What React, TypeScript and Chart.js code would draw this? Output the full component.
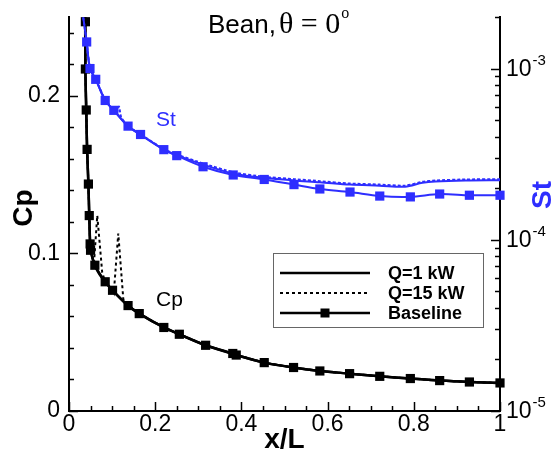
import React, { useEffect, useRef } from "react";
import { Chart, registerables } from "chart.js";

Chart.register(...registerables);

const SANS = '"Liberation Sans", Arial, Helvetica, sans-serif';
const SERIF = '"Liberation Serif", "Times New Roman", serif';
const BLUE = "#2e2eff";
const BLACK = "#000000";

// ---- Pressure coefficient, baseline (with markers)
const baseCpX = [0.038, 0.038, 0.040, 0.042, 0.045, 0.047, 0.049, 0.050, 0.060, 0.084, 0.101, 0.137, 0.163, 0.220, 0.256, 0.317, 0.380, 0.388, 0.453, 0.521, 0.582, 0.651, 0.721, 0.792, 0.860, 0.929, 1.0];
const baseCp = [0.247, 0.217, 0.191, 0.166, 0.144, 0.124, 0.106, 0.102, 0.0925, 0.082, 0.0766, 0.0669, 0.0618, 0.053, 0.0487, 0.0417, 0.0365, 0.0355, 0.0307, 0.0276, 0.0254, 0.0237, 0.022, 0.0206, 0.0193, 0.0184, 0.0178];

// ---- Pressure coefficient, Q = 1 kW
const q1CpX = [0.0375, 0.038, 0.040, 0.042, 0.045, 0.047, 0.049, 0.052, 0.060, 0.070, 0.084, 0.101, 0.137, 0.163, 0.220, 0.256, 0.317, 0.383, 0.453, 0.521, 0.582, 0.651, 0.721, 0.792, 0.860, 0.929, 1.0];
const q1Cp = [0.25, 0.217, 0.191, 0.166, 0.144, 0.124, 0.106, 0.100, 0.0925, 0.087, 0.082, 0.0766, 0.0669, 0.0618, 0.053, 0.0487, 0.0417, 0.036, 0.0307, 0.0276, 0.0254, 0.0237, 0.022, 0.0206, 0.0193, 0.0184, 0.0178];

// ---- Pressure coefficient, Q = 15 kW (two spikes near the nose)
const q15CpX = [0.0375, 0.038, 0.040, 0.042, 0.045, 0.047, 0.049, 0.052, 0.058, 0.0656, 0.077, 0.084, 0.101, 0.104, 0.1143, 0.126, 0.137, 0.163, 0.220, 0.256, 0.317, 0.383, 0.453, 0.521, 0.582, 0.651, 0.721, 0.792, 0.860, 0.929, 1.0];
const q15Cp = [0.25, 0.217, 0.191, 0.166, 0.144, 0.124, 0.106, 0.100, 0.094, 0.124, 0.088, 0.082, 0.0766, 0.075, 0.1126, 0.071, 0.0669, 0.0618, 0.053, 0.0487, 0.0417, 0.036, 0.0307, 0.0276, 0.0254, 0.0237, 0.022, 0.0206, 0.0193, 0.0184, 0.0178];

// ---- Stanton number, baseline (with markers)
const baseStX = [0.041, 0.0487, 0.062, 0.084, 0.104, 0.137, 0.166, 0.220, 0.250, 0.311, 0.381, 0.453, 0.522, 0.582, 0.652, 0.721, 0.792, 0.860, 0.929, 1.0];
const baseSt = [1.43e-3, 1.0e-3, 8.65e-4, 6.51e-4, 5.7e-4, 4.61e-4, 4.12e-4, 3.36e-4, 3.1e-4, 2.67e-4, 2.39e-4, 2.25e-4, 2.1e-4, 1.98e-4, 1.9e-4, 1.8e-4, 1.78e-4, 1.85e-4, 1.82e-4, 1.82e-4];

// ---- Stanton number, Q = 1 kW
const q1StX = [0.033, 0.041, 0.0487, 0.062, 0.084, 0.104, 0.137, 0.166, 0.220, 0.250, 0.311, 0.381, 0.453, 0.522, 0.582, 0.652, 0.721, 0.780, 0.820, 0.850, 0.920, 1.0];
const q1St = [1.99e-3, 1.43e-3, 1.0e-3, 8.65e-4, 6.5e-4, 5.7e-4, 4.6e-4, 4.1e-4, 3.36e-4, 3.12e-4, 2.75e-4, 2.44e-4, 2.3e-4, 2.22e-4, 2.17e-4, 2.1e-4, 2.07e-4, 2.04e-4, 2.15e-4, 2.19e-4, 2.22e-4, 2.23e-4];

// ---- Stanton number, Q = 15 kW
const q15StX = [0.033, 0.041, 0.0487, 0.062, 0.084, 0.104, 0.110, 0.116, 0.121, 0.137, 0.166, 0.220, 0.250, 0.311, 0.381, 0.453, 0.522, 0.582, 0.652, 0.721, 0.780, 0.820, 0.850, 0.920, 1.0];
const q15St = [1.99e-3, 1.43e-3, 1.0e-3, 8.7e-4, 6.55e-4, 5.72e-4, 5.45e-4, 6.0e-4, 5.2e-4, 4.62e-4, 4.13e-4, 3.38e-4, 3.15e-4, 2.79e-4, 2.48e-4, 2.33e-4, 2.26e-4, 2.2e-4, 2.13e-4, 2.1e-4, 2.07e-4, 2.18e-4, 2.22e-4, 2.25e-4, 2.26e-4];

// ---- Axes and tick labels
const xMajorTicks = [0, 0.2, 0.4, 0.6, 0.8, 1];
const xMinorStep = 0.05;
const cpMajorTicks = [0, 0.1, 0.2];
const cpMinorStep = 0.02;
const stDecades = [1e-5, 1e-4, 1e-3];
const stDecadeExps = ["-5", "-4", "-3"];
const legendLabels = ["Q=1 kW", "Q=15 kW", "Baseline"];

const pts = (xs: number[], ys: number[]) => xs.map((x, i) => ({ x, y: ys[i] }));

const overlay = {
  id: "overlay",
  afterDraw(chart: any) {
    const { ctx, chartArea: ca, scales } = chart;
    const xs = scales.x, ys = scales.y, y2 = scales.y2;
    ctx.save();
    ctx.strokeStyle = BLACK;
    ctx.lineWidth = 1.5;
    const MAJ = 9, MIN = 5;

    // inward ticks on the bottom axis
    for (let i = 0; i <= Math.round(1 / xMinorStep); i++) {
      const v = i * xMinorStep;
      const major = xMajorTicks.some((t) => Math.abs(t - v) < 1e-9);
      const px = Math.round(xs.getPixelForValue(v)) + 0.5;
      ctx.beginPath();
      ctx.moveTo(px, ca.bottom);
      ctx.lineTo(px, ca.bottom - (major ? MAJ : MIN));
      ctx.stroke();
    }
    // inward ticks on the Cp axis
    for (let i = 0; i * cpMinorStep <= 0.25 + 1e-9; i++) {
      const v = i * cpMinorStep;
      const major = cpMajorTicks.some((t) => Math.abs(t - v) < 1e-9);
      const py = Math.round(ys.getPixelForValue(v)) + 0.5;
      ctx.beginPath();
      ctx.moveTo(ca.left, py);
      ctx.lineTo(ca.left + (major ? MAJ : MIN), py);
      ctx.stroke();
    }
    // inward ticks on the St (log) axis
    const logTicks: { v: number; major: boolean }[] = [];
    stDecades.forEach((d) => {
      for (let m = 1; m <= 9; m++) logTicks.push({ v: d * m, major: m === 1 });
    });
    logTicks.forEach(({ v, major }) => {
      if (v > y2.max * 1.0001) return;
      const py = Math.round(y2.getPixelForValue(v)) + 0.5;
      ctx.beginPath();
      ctx.moveTo(ca.right, py);
      ctx.lineTo(ca.right - (major ? MAJ : MIN), py);
      ctx.stroke();
    });

    // decade labels on the St axis
    ctx.fillStyle = BLACK;
    stDecades.forEach((d, i) => {
      const py = y2.getPixelForValue(d);
      ctx.font = `23px ${SANS}`;
      ctx.textAlign = "left";
      ctx.textBaseline = "middle";
      const x0 = ca.right + 6;
      ctx.fillText("10", x0, py + 1);
      const w = ctx.measureText("10").width;
      ctx.font = `15px ${SANS}`;
      ctx.fillText(stDecadeExps[i], x0 + w + 1, py - 8);
    });

    // title
    ctx.textBaseline = "alphabetic";
    ctx.textAlign = "left";
    let tx = 208;
    const ty = 33;
    ctx.font = `26px ${SANS}`;
    ctx.fillText("Bean,", tx, ty);
    tx += ctx.measureText("Bean,").width + 3;
    ctx.font = `30px ${SERIF}`;
    const mid = "\u03b8 = 0";
    ctx.fillText(mid, tx, ty);
    tx += ctx.measureText(mid).width + 1;
    ctx.font = `16px ${SERIF}`;
    ctx.fillText("o", tx, ty - 15);

    // axis titles
    ctx.font = `bold 28px ${SANS}`;
    ctx.textAlign = "center";
    ctx.textBaseline = "middle";
    ctx.fillText("x/L", (ca.left + ca.right) / 2, 440);
    ctx.save();
    ctx.translate(24, 208);
    ctx.rotate(-Math.PI / 2);
    ctx.fillText("Cp", 0, 0);
    ctx.restore();
    ctx.save();
    ctx.fillStyle = BLUE;
    ctx.translate(543, 195);
    ctx.rotate(-Math.PI / 2);
    ctx.fillText("St", 0, 0);
    ctx.restore();

    // curve labels
    ctx.font = `21px ${SANS}`;
    ctx.textAlign = "left";
    ctx.textBaseline = "alphabetic";
    ctx.fillStyle = BLUE;
    ctx.fillText("St", 156, 126);
    ctx.fillStyle = BLACK;
    ctx.fillText("Cp", 156, 306);

    // legend box
    const bx = 273.5, by = 253.5, bw = 210, bh = 74;
    ctx.fillStyle = "#ffffff";
    ctx.fillRect(bx, by, bw, bh);
    ctx.strokeStyle = "#666666";
    ctx.lineWidth = 1;
    ctx.strokeRect(bx, by, bw, bh);
    const rows = [273, 293, 313];
    const ds = chart.data.datasets;
    const styles = [ds[4], ds[5], ds[3]];
    rows.forEach((ry, i) => {
      const s = styles[i];
      ctx.strokeStyle = BLACK;
      ctx.lineWidth = s.borderWidth;
      ctx.setLineDash(s.borderDash || []);
      ctx.beginPath();
      ctx.moveTo(280, ry);
      ctx.lineTo(370, ry);
      ctx.stroke();
      ctx.setLineDash([]);
      if (i === 2) {
        ctx.fillStyle = BLACK;
        ctx.fillRect(325 - 4.5, ry - 4.5, 9, 9);
      }
      ctx.fillStyle = BLACK;
      ctx.font = `bold 18px ${SANS}`;
      ctx.textBaseline = "middle";
      ctx.fillText(legendLabels[i], 388, ry + 1);
    });
    ctx.restore();
  },
};

export default function App() {
  const ref = useRef<HTMLCanvasElement | null>(null);
  useEffect(() => {
    if (!ref.current) return;
    const line = (data: any, color: string, axis: string, extra: any = {}) => ({
      data,
      yAxisID: axis,
      borderColor: color,
      backgroundColor: color,
      borderWidth: 2,
      pointRadius: 0,
      tension: 0.3,
      fill: false,
      ...extra,
    });
    const marked = { pointStyle: "rect", pointRadius: 6.5, pointBorderWidth: 0, clip: 8 };
    const chart = new Chart(ref.current, {
      type: "line",
      data: {
        datasets: [
          line(pts(q1StX, q1St), BLUE, "y2"),
          line(pts(q15StX, q15St), BLUE, "y2", { borderDash: [3, 2], tension: 0.2 }),
          line(pts(baseStX, baseSt), BLUE, "y2", { ...marked, borderWidth: 2 }),
          line(pts(baseCpX, baseCp), BLACK, "y", { ...marked, borderWidth: 2.5 }),
          line(pts(q1CpX, q1Cp), BLACK, "y", { borderWidth: 2.5 }),
          line(pts(q15CpX, q15Cp), BLACK, "y", { borderDash: [3, 3], borderWidth: 2, tension: 0 }),
        ],
      } as any,
      options: {
        responsive: false,
        animation: false,
        layout: { padding: { top: 17, left: 0, right: 0, bottom: 0 } },
        plugins: { legend: { display: false }, tooltip: { enabled: false }, title: { display: false } },
        scales: {
          x: {
            type: "linear",
            min: 0,
            max: 1,
            grid: { display: false },
            border: { display: true, color: BLACK, width: 2 },
            ticks: {
              font: { family: SANS, size: 23 },
              color: BLACK,
              padding: -8,
              maxRotation: 0,
              autoSkip: false,
              callback: (v: any) => String(v),
            },
            afterBuildTicks: (s: any) => {
              s.ticks = xMajorTicks.map((v) => ({ value: v }));
            },
            afterFit: (s: any) => {
              s.height = 46;
            },
          },
          y: {
            type: "linear",
            position: "left",
            min: 0,
            max: 0.25,
            grid: { display: false },
            border: { display: true, color: BLACK, width: 2 },
            ticks: { font: { family: SANS, size: 23 }, color: BLACK, padding: 1, callback: (v: any) => String(v) },
            afterBuildTicks: (s: any) => {
              s.ticks = cpMajorTicks.map((v) => ({ value: v }));
            },
            afterFit: (s: any) => {
              s.width = 69;
            },
          },
          y2: {
            type: "logarithmic",
            position: "right",
            min: 1e-5,
            max: 2e-3,
            grid: { display: false },
            border: { display: true, color: BLACK, width: 2 },
            ticks: { display: false },
            afterFit: (s: any) => {
              s.width = 55;
            },
          },
        },
      } as any,
      plugins: [overlay],
    });
    return () => chart.destroy();
  }, []);
  return (
    <div style={{ position: "fixed", left: 0, top: 0, width: 555, height: 457, background: "#fff" }}>
      <canvas ref={ref} width={555} height={457} />
    </div>
  );
}
